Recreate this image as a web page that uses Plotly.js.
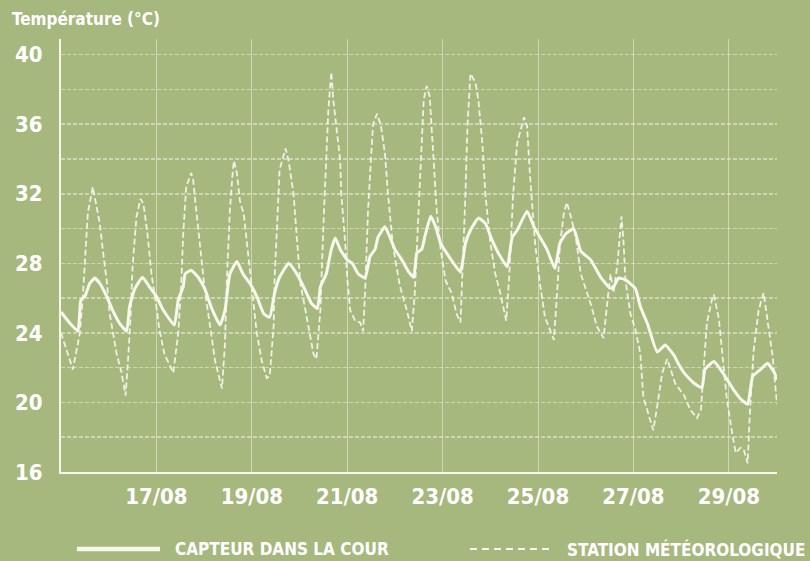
<!DOCTYPE html>
<html>
<head>
<meta charset="utf-8">
<script src="https://cdn.plot.ly/plotly-3.0.1.min.js"></script>
<style>
  html, body { margin: 0; padding: 0; background: #a6b87e; }
  #chart { width: 810px; height: 561px; }
</style>
</head>
<body>
<div id="chart"></div>
<script>
// Station météorologique (dashed) — day-of-August + time, temperature °C
const stationTime = [
  '15 00:00','15 06:00','15 09:30','15 11:00','15 12:30','15 13:30','15 16:00','15 17:00','15 19:30','15 21:00','15 23:00',
  '16 00:30','16 04:00','16 06:30','16 08:30','16 09:30','16 11:00','16 12:00','16 14:00','16 16:00','16 17:30','16 19:30','16 21:30',
  '17 00:00','17 01:30','17 04:00','17 08:30','17 11:00','17 12:30','17 13:30','17 15:00','17 17:30','17 18:30','17 20:00','17 22:00',
  '18 00:30','18 03:00','18 05:30','18 09:00','18 10:30','18 11:30','18 13:00','18 14:30','18 15:00','18 16:30','18 18:00','18 20:00','18 21:30',
  '19 00:00','19 02:30','19 05:00','19 07:30','19 09:00','19 11:00','19 11:30','19 13:00','19 14:00','19 15:30','19 17:00','19 18:30','19 21:00','19 22:30',
  '20 00:30','20 03:00','20 04:30','20 07:00','20 08:30','20 10:30','20 12:00','20 13:30','20 14:30','20 16:00','20 17:00','20 18:30','20 20:30','20 21:00','20 23:00',
  '21 00:00','21 01:30','21 04:00','21 06:30','21 08:00','21 09:00','21 10:30','21 12:30','21 13:00','21 15:00','21 17:00','21 19:00','21 20:30','21 23:00',
  '22 02:30','22 06:00','22 08:30','22 10:00','22 12:00','22 13:30','22 14:30','22 16:00','22 17:30','22 19:30','22 21:00','22 23:00',
  '23 01:30','23 04:30','23 07:00','23 09:00','23 10:00','23 11:30','23 12:30','23 13:30','23 14:00','23 16:30','23 18:00','23 20:00','23 21:30',
  '24 00:00','24 02:30','24 05:00','24 08:00','24 09:30','24 11:30','24 13:30','24 17:00','24 18:30','24 20:00','24 22:30',
  '25 01:00','25 03:30','25 08:00','25 09:30','25 11:00','25 13:00','25 14:30','25 16:30','25 19:00','25 21:30',
  '26 00:00','26 03:00','26 05:30','26 09:00','26 11:00','26 12:30','26 14:00','26 16:00','26 18:00','26 19:00','26 20:00','26 22:30',
  '27 01:00','27 03:30','27 05:00','27 07:30','27 10:00','27 12:00','27 14:30','27 17:00','27 21:00',
  '28 01:30','28 04:30','28 08:00','28 10:00','28 11:30','28 13:00','28 15:30','28 16:30','28 19:00','28 20:30','28 23:00',
  '29 02:00','29 03:30','29 06:00','29 07:30','29 09:30','29 10:30','29 12:30','29 15:00','29 17:30','29 19:30','29 22:00',
  '30 00:15'
];
const stationTemp = [
  24.0,21.9,24.0,26.1,29.0,30.9,32.4,31.8,30.3,28.8,27.0,
  25.1,22.8,21.7,20.4,22.0,24.9,27.8,30.7,31.7,31.4,29.7,27.4,
  25.5,24.2,22.8,21.7,24.0,26.8,29.7,32.4,33.2,32.8,31.1,29.0,
  26.3,24.4,22.4,20.8,23.4,27.2,31.1,33.4,33.9,33.2,31.6,30.8,29.2,
  26.3,24.0,22.4,21.4,21.5,24.4,27.2,31.1,33.4,34.0,34.6,33.9,32.0,29.7,
  26.8,25.3,24.4,22.8,22.5,25.3,30.1,33.9,36.8,39.0,37.4,35.9,33.9,32.0,29.2,
  27.2,25.3,24.7,24.6,24.1,26.3,31.1,34.9,36.0,36.6,35.9,34.3,32.0,29.0,
  26.7,25.3,24.1,26.3,31.1,34.9,37.4,38.2,37.6,33.9,31.1,28.8,
  27.0,26.3,25.1,24.6,27.2,32.0,35.9,38.2,38.9,38.4,37.4,34.9,32.0,
  29.2,27.4,26.3,24.7,27.2,32.0,34.9,36.4,35.9,33.0,29.2,
  26.8,24.9,23.6,26.1,29.0,30.9,31.5,30.7,29.5,27.4,
  26.5,25.5,24.4,23.7,25.9,27.4,26.3,28.0,30.7,29.3,27.0,25.1,
  24.2,22.8,20.3,19.4,18.4,19.8,21.7,22.5,21.1,
  20.4,19.6,19.1,19.6,22.2,24.6,25.9,26.2,24.8,22.9,20.2,
  18.0,17.1,17.4,17.3,16.5,19.2,23.0,25.3,26.3,24.8,22.7,
  19.9
];

// Capteur dans la cour (solid)
const capteurTime = [
  '15 00:00','15 04:30','15 08:30','15 10:00','15 12:00','15 14:30','15 17:00','15 19:30','15 23:00',
  '16 02:00','16 05:30','16 09:00','16 10:30','16 13:00','16 17:00','16 20:30',
  '17 00:00','17 03:30','17 09:00','17 11:00','17 13:30','17 14:30','17 17:30','17 21:00',
  '18 00:30','18 03:30','18 08:00','18 10:30','18 12:00','18 13:00','18 16:30','18 19:30','18 23:00',
  '19 02:30','19 06:00','19 09:00','19 11:30','19 14:00','19 18:30','19 21:30',
  '20 01:00','20 03:30','20 06:00','20 09:00','20 10:30','20 13:30','20 16:00','20 18:00','20 20:30',
  '21 00:00','21 02:30','21 05:30','21 09:00','21 11:30','21 14:00','21 15:30','21 19:00','21 21:30',
  '22 00:00','22 03:30','22 07:00','22 09:30','22 11:00','22 13:30','22 15:00','22 18:00','22 20:30','22 23:00',
  '23 02:00','23 05:30','23 09:00','23 11:30','23 14:00','23 18:00','23 21:30',
  '24 01:00','24 04:00','24 08:30','24 11:00','24 13:30','24 18:30','24 22:00',
  '25 01:00','25 04:30','25 08:30','25 11:00','25 14:00','25 18:00','25 21:30',
  '26 02:30','26 07:30','26 11:30','26 13:30','26 16:30','26 20:00',
  '27 01:00','27 03:30','27 07:00','27 12:00','27 16:00','27 20:30','27 22:00',
  '28 01:30','28 06:30','28 10:30','28 12:00','28 16:30','28 21:00',
  '29 02:00','29 06:00','29 09:30','29 12:00','29 16:00','29 19:30','29 23:00',
  '30 00:15'
];
const capteurTemp = [
  25.2,24.55,24.1,25.9,26.1,26.85,27.15,26.85,26.1,
  25.3,24.55,24.1,25.5,26.5,27.2,26.65,
  26.1,25.3,24.45,25.9,26.65,27.4,27.6,27.2,
  26.5,25.5,24.45,25.3,26.65,27.4,28.1,27.4,26.85,
  26.1,25.1,24.9,26.3,27.2,28.0,27.6,
  26.9,26.3,25.7,25.4,26.65,27.4,28.8,29.45,28.8,
  28.2,28.0,27.4,27.15,28.4,28.8,29.5,30.1,29.5,
  28.8,28.2,27.5,27.2,28.6,28.8,29.5,30.7,30.1,29.15,
  28.6,28.0,27.5,29.15,29.9,30.6,30.3,
  29.3,28.6,27.8,29.5,29.9,31.0,30.1,
  29.5,28.8,27.7,29.15,29.7,30.0,28.7,
  28.2,27.2,26.65,26.55,27.15,27.05,
  26.55,25.5,24.55,22.9,23.3,22.7,22.35,
  21.7,21.1,20.85,21.9,22.35,21.7,
  20.8,20.2,19.9,21.5,21.9,22.25,21.7,
  21.3
];

const xTickVals = ['2015-08-17','2015-08-19','2015-08-21','2015-08-23','2015-08-25','2015-08-27','2015-08-29'];
const xTickText = ['17/08','19/08','21/08','23/08','25/08','27/08','29/08'];
const yTickVals = [16,18,20,22,24,26,28,30,32,34,36,38,40];
const yTickText = ['16','','20','','24','','28','','32','','36','','40'];

const seriesNames = ['CAPTEUR DANS LA COUR', 'STATION MÉTÉOROLOGIQUE'];
const yTitle = 'Température (°C)';

const toDate = s => '2015-08-' + s;

const lineColor = '#f7f7ee';
const gridColor = 'rgba(236,240,222,0.55)';
const fontFam = '"DejaVu Sans Condensed", "Liberation Sans Narrow", "DejaVu Sans", sans-serif';

const traces = [
  {
    x: stationTime.map(toDate), y: stationTemp, type: 'scatter', mode: 'lines',
    name: seriesNames[1],
    line: { color: 'rgba(245,245,235,0.92)', width: 1.8, dash: '6px,3px' },
    hoverinfo: 'skip'
  },
  {
    x: capteurTime.map(toDate), y: capteurTemp, type: 'scatter', mode: 'lines',
    name: seriesNames[0],
    line: { color: lineColor, width: 3, shape: 'spline', smoothing: 0.4 },
    hoverinfo: 'skip'
  }
];

const legY = -0.178;

const layout = {
  width: 810, height: 561,
  paper_bgcolor: '#a6b87e', plot_bgcolor: '#a6b87e',
  margin: { l: 61, r: 33, t: 39, b: 89 },
  showlegend: false,
  hovermode: false,
  xaxis: {
    type: 'date',
    range: ['2015-08-15 00:00', '2015-08-30 00:15'],
    tickmode: 'array', tickvals: xTickVals, ticktext: xTickText,
    showgrid: true, gridcolor: gridColor, gridwidth: 1,
    zeroline: false,
    showline: true, linecolor: lineColor, linewidth: 2,
    ticks: 'outside', ticklen: 4, tickcolor: 'rgba(0,0,0,0)',
    tickfont: { family: fontFam, size: 22, color: '#ffffff', weight: 'bold' },
    fixedrange: true
  },
  yaxis: {
    range: [16, 40.9],
    tickmode: 'array', tickvals: yTickVals, ticktext: yTickText,
    showgrid: true, gridcolor: gridColor, gridwidth: 1.5, griddash: '4px,2px',
    zeroline: false,
    showline: true, linecolor: lineColor, linewidth: 2,
    ticks: 'outside', ticklen: 12, tickcolor: 'rgba(0,0,0,0)',
    tickfont: { family: fontFam, size: 22, color: '#ffffff', weight: 'bold' },
    fixedrange: true
  },
  shapes: [
    { type: 'line', xref: 'paper', yref: 'paper', x0: 0.0223, x1: 0.1383, y0: legY, y1: legY,
      line: { color: lineColor, width: 4.5 } },
    { type: 'line', xref: 'paper', yref: 'paper', x0: 0.5712, x1: 0.6872, y0: legY, y1: legY,
      line: { color: lineColor, width: 2, dash: '7px,5px' } }
  ],
  annotations: [
    { xref: 'paper', yref: 'paper', x: -0.0712, y: 1.046, xanchor: 'left', yanchor: 'middle',
      text: yTitle, showarrow: false,
      font: { family: fontFam, size: 17, color: '#ffffff', weight: 'bold' } },
    { xref: 'paper', yref: 'paper', x: 0.1564, y: legY, xanchor: 'left', yanchor: 'middle',
      text: seriesNames[0], showarrow: false,
      font: { family: fontFam, size: 17, color: '#ffffff', weight: 'bold' } },
    { xref: 'paper', yref: 'paper', x: 0.7039, y: legY, xanchor: 'left', yanchor: 'middle',
      text: seriesNames[1], showarrow: false,
      font: { family: fontFam, size: 17, color: '#ffffff', weight: 'bold' } }
  ]
};

Plotly.newPlot('chart', traces, layout, { staticPlot: true, displayModeBar: false });
</script>
</body>
</html>
